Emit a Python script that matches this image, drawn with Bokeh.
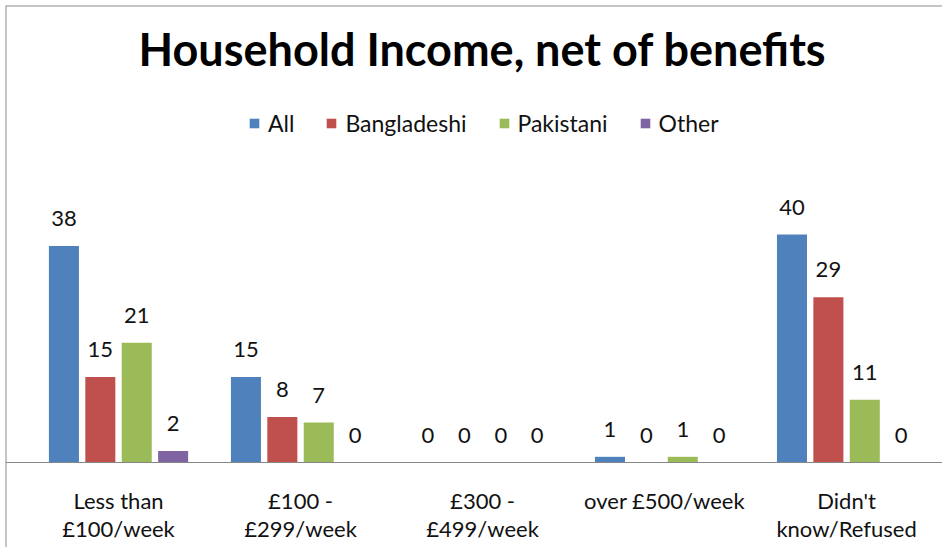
from bokeh.plotting import figure
from bokeh.models import (ColumnDataSource, Range1d, Legend, LegendItem, Label, Span)
from bokeh.transform import dodge
from bokeh.core.properties import value
from bokeh.embed import file_html
from bokeh.resources import INLINE

title_text = "Household Income, net of benefits"
categories = ["Less than\n£100/week", "£100 -\n£299/week", "£300 -\n£499/week",
              "over £500/week", "Didn't\nknow/Refused"]
series_names = ["All", "Bangladeshi", "Pakistani", "Other"]
all_vals = [38, 15, 0, 1, 40]
bangladeshi_vals = [15, 8, 0, 0, 29]
pakistani_vals = [21, 7, 0, 1, 11]
other_vals = [2, 0, 0, 0, 0]

colors = ["#4F81BD", "#C0504D", "#9BBB59", "#8064A2"]
offsets = [-0.3, -0.1, 0.1, 0.3]
FONT = "Lato"

idx = list(range(len(categories)))
data = {"x": idx, "cat": categories, "base": [0] * len(idx)}
for name, vals in zip(series_names, [all_vals, bangladeshi_vals, pakistani_vals, other_vals]):
    data[name] = vals
    data[name + "_lbl"] = [str(v) for v in vals]
src = ColumnDataSource(data)

X0, X1 = -0.621, 4.527
Y0, Y1 = -14.91, 80.18
p = figure(width=942, height=547, output_backend="svg", toolbar_location=None,
           x_range=Range1d(X0, X1), y_range=Range1d(Y0, Y1),
           x_axis_location=None, y_axis_location=None,
           min_border_left=5, min_border_right=0, min_border_top=5, min_border_bottom=0)
p.outline_line_color = None
p.grid.visible = False
p.background_fill_color = "white"
p.border_fill_color = "white"

# category axis: baseline and category labels
p.add_layout(Span(location=0, dimension="width", line_color="#868686", line_width=1))
p.text(x="x", y="base", text="cat", source=src, text_align="center",
       text_baseline="top", y_offset=24, text_line_height=1.05,
       text_font=value(FONT), text_font_size="22px", text_color="#111111")

renderers = []
for name, col, off in zip(series_names, colors, offsets):
    r = p.vbar(x=dodge("x", off), top=name, width=0.165, source=src,
               fill_color=col, line_color=None)
    renderers.append(r)
    p.text(x=dodge("x", off), y=name, text=name + "_lbl", source=src,
           text_align="center", text_baseline="bottom", y_offset=-20,
           text_font=value(FONT), text_font_size="22px", text_color="#111111")

legend = Legend(items=[LegendItem(label=n, renderers=[r]) for n, r in zip(series_names, renderers)],
                orientation="horizontal", location=(243, 410),
                glyph_width=12, glyph_height=12, label_height=24,
                label_text_font=FONT, label_text_font_size="23px",
                label_text_color="#111111", label_standoff=8, spacing=31,
                padding=0, margin=0, border_line_color=None,
                background_fill_alpha=0)
p.add_layout(legend, "center")

p.add_layout(Label(x=477, y=499, x_units="screen", y_units="screen", text=title_text,
                   text_align="center", text_baseline="middle", text_font=FONT,
                   text_font_style="bold", text_font_size="45px", text_color="#000000"))

p.add_layout(Span(location=X0, dimension="height", line_color="#8C8C8C", line_width=2))
p.add_layout(Span(location=Y1, dimension="width", line_color="#8C8C8C", line_width=2))

open("out.html", "w").write(file_html(p, INLINE))
